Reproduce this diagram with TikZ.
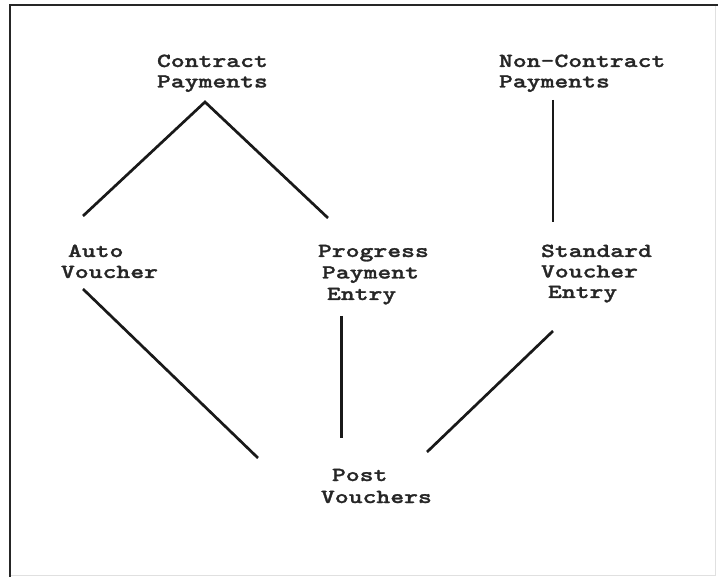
\documentclass[tikz,border=0pt]{standalone}
\usepackage{fontspec}
\newfontfamily\courf{lmmonolt10-bold.otf}[FakeStretch=1.32,FakeBold=1.3]
\tikzset{
  lbl/.style={anchor=base west, inner sep=0pt, outer sep=0pt, font=\courf\fontsize{20}{21}\selectfont, text=black!85},
  link/.style={line width=2.7pt, black!90},
}
\begin{document}
\begin{tikzpicture}[x=1pt,y=-1pt]
\useasboundingbox (0,0) rectangle (718,577);
% frame
\draw[black!12, line width=1pt] (715,5) -- (715,575) -- (10,575);
\draw[black!85, line width=2pt] (9.5,577) -- (9.5,5) -- (718,5);
% labels
\node[lbl] (cp) at (157,67) {\vtop{\baselineskip=20.5pt\hbox{Contract}\hbox{Payments}}};
\node[lbl] (ncp) at (499,67) {\vtop{\baselineskip=20.5pt\hbox{Non-Contract}\hbox{Payments}}};
\node[lbl] (av) at (61,257) {\vtop{\baselineskip=21pt\hbox{\hspace{7pt}Auto}\hbox{Voucher}}};
\node[lbl] (ppe) at (318,257) {\vtop{\baselineskip=21.5pt\hbox{Progress}\hbox{\hspace{4pt}Payment}\hbox{\hspace{9pt}Entry}}};
\node[lbl] (sve) at (541,257) {\vtop{\baselineskip=20.5pt\hbox{Standard}\hbox{Voucher}\hbox{\hspace{7pt}Entry}}};
\node[lbl] (pv) at (321,481) {\vtop{\baselineskip=22pt\hbox{\hspace{11pt}Post}\hbox{Vouchers}}};
% connector end points
\coordinate (cpA) at (205,102);
\coordinate (avT) at (83,216);
\coordinate (ppeT) at (328,218);
\coordinate (ncpB) at (553,100);
\coordinate (sveT) at (553,222);
\coordinate (avB) at (83,289);
\coordinate (pvL) at (258,458);
\coordinate (ppeB) at (341.5,316);
\coordinate (pvT) at (341.5,438);
\coordinate (sveB) at (553,331);
\coordinate (pvR) at (427,452);
% connectors
\draw[link] (avT) -- (cpA) -- (ppeT);
\draw[link] (ncpB) -- (sveT);
\draw[link] (avB) -- (pvL);
\draw[link] (ppeB) -- (pvT);
\draw[link] (sveB) -- (pvR);
\end{tikzpicture}
\end{document}
